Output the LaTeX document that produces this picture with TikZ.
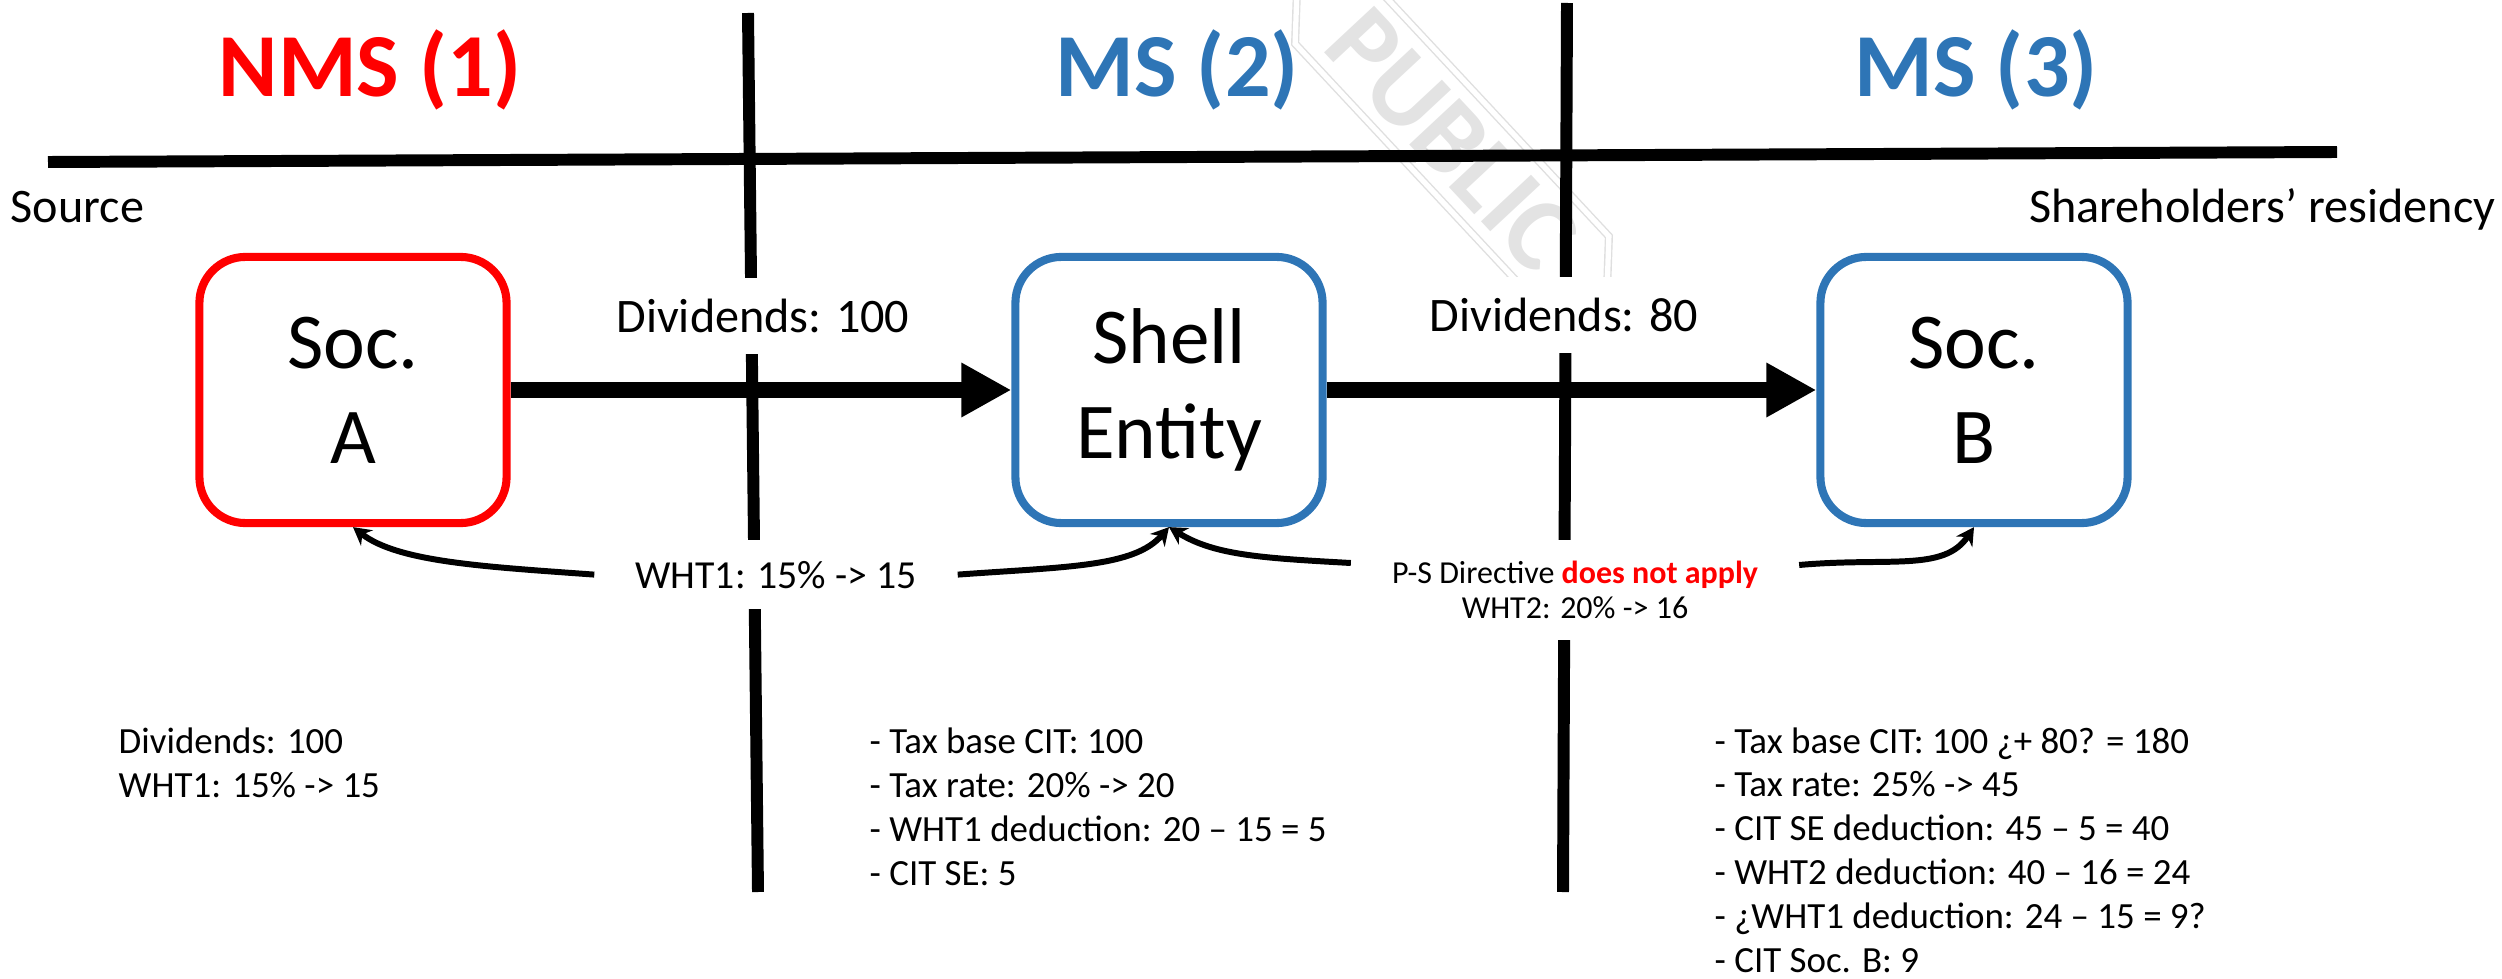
\documentclass[tikz,border=0pt]{standalone}
\usepackage{fontspec}
\setmainfont{Carlito}
\usetikzlibrary{arrows.meta,calc,positioning,shapes.symbols}
\definecolor{nmsred}{RGB}{255,0,0}
\definecolor{msblue}{RGB}{46,117,182}

\begin{document}
\begin{tikzpicture}[x=0.01cm,y=-0.01cm,
  rule/.style={line width=3.4pt},
  box/.style={draw=#1,line width=2.3pt,rounded corners=0.46cm,minimum width=3.07cm,minimum height=2.66cm,align=center,font=\fontsize{22.5}{27}\selectfont},
  caption/.style={inner sep=0pt,font=\fontsize{13.7}{16}\selectfont},
  lbl/.style={fill=white,inner xsep=11.5pt,inner ysep=6pt},
  note/.style={inner sep=0pt,anchor=base west,font=\fontsize{10.5}{12.6}\selectfont},
  flow/.style={line width=4.7pt,-{Triangle[length=14.2pt,width=14.5pt]}},
  wht/.style={line width=1.7pt,-{Stealth[length=5pt,width=5.5pt]}}]
   \useasboundingbox (0,0) rectangle (2502,979);
   % stamp
   \node (stamp) at (1452,140) [rotate=-47,signal,signal to=west and east,draw=gray!25,double,double distance=1.5pt,text=gray!22,font=\bfseries\fontsize{30}{30}\selectfont,inner xsep=6pt,inner ysep=4pt] {PUBLIC};
   % borders
   \draw[rule] (48,162) -- (2337,152);
   \foreach \xt/\yt/\xb in {748/13/758,1567/3/1563} {\draw[rule] (\xt,\yt) -- (\xb,892);}
   \foreach \t/\c/\x [count=\i] in {NMS (1)/nmsred/370,MS (2)/msblue/1177,MS (3)/msblue/1976}
     {\node (state\i) at (\x,97) [anchor=base,inner sep=0pt,text=\c,font=\bfseries\fontsize{25.6}{30}\selectfont] {\t};}
   \node (src) at (10,222) [caption,anchor=base west] {Source};
   \node (res) at (2496,222) [caption,anchor=base east] {Shareholders’ residency};
   % companies
   \node (socA) at (353,390) [box=nmsred] {Soc.\\A};
   \node (shell) at (1169,390) [box=msblue] {Shell\\Entity};
   \node (socB) at (1974,390) [box=msblue] {Soc.\\B};
   \draw[flow] (socA) -- (shell);
   \draw[flow] (shell) -- (socB);
   \node (div1) at (763,333) [caption,lbl,anchor=base] {Dividends: 100};
   \node (div2) at (1564,332) [caption,lbl,anchor=base] {Dividends: 80};
   % withholding
   \node (wht1) at (776,588) [lbl,anchor=base,font=\fontsize{11.3}{13}\selectfont] {WHT1: 15\% -> 15};
   \node (wht2) at (1575,590) [lbl,align=center,font=\fontsize{9.1}{10}\selectfont] {P-S Directive \textcolor{nmsred}{\bfseries does not apply}\\WHT2: 20\% -> 16};
   \draw[wht] (wht1.west) .. controls +(-110,-8) and +(45,35) .. (socA.south);
   \draw[wht] (wht1.east) .. controls +(110,-8) and +(-35,40) .. (shell.south);
   \draw[wht] ($(wht2.west)+(0,-27)$) .. controls +(-90,-5) and +(45,28) .. (shell.south);
   \draw[wht] ($(wht2.east)+(0,-25)$) .. controls +(90,-8) and +(-30,45) .. (socB.south);
   % tax computation
   \foreach \t [count=\i from 0] in {Dividends: 100,WHT1: 15\% -> 15}
     {\node (nms\i) at (118,{753+44*\i}) [note] {\t};}
   \foreach \t [count=\i from 0] in {- Tax base CIT: 100,- Tax rate: 20\% -> 20,- WHT1 deduction: 20 – 15 = 5,- CIT SE: 5}
     {\node (se\i) at (869,{753+44*\i}) [note] {\t};}
   \foreach \t [count=\i from 0] in {- Tax base CIT: 100 ¿+ 80? = 180,- Tax rate: 25\% -> 45,- CIT SE deduction: 45 – 5 = 40,- WHT2 deduction: 40 – 16 = 24,- ¿WHT1 deduction: 24 – 15 = 9?,- CIT Soc. B: 9}
     {\node (sb\i) at (1714,{753+43.8*\i}) [note] {\t};}
\end{tikzpicture}
\end{document}
